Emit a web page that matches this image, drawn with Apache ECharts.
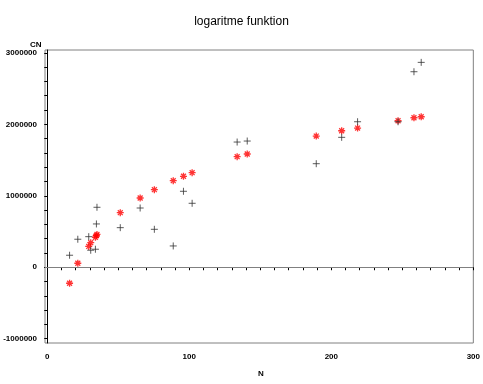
<!DOCTYPE html>
<html>
<head>
<meta charset="utf-8">
<script src="https://cdn.jsdelivr.net/npm/echarts@6/dist/echarts.min.js"></script>
<style>html,body{margin:0;padding:0;background:#fff;}#c{width:483px;height:384px;}</style>
</head>
<body>
<div id="c"></div>
<script>
var N = [15.7, 21.5, 29.2, 30.6, 33.9, 34.6, 35.0, 51.4, 65.4, 75.4, 88.7, 95.9, 102.0, 133.7, 140.8, 189.4, 207.3, 218.5, 247.0, 258.2, 263.3];
var CN_actual = [168000, 392000, 428000, 238000, 252000, 606000, 839000, 554000, 829000, 531000, 298000, 1063000, 895000, 1752000, 1766000, 1449000, 1818000, 2036000, 2036000, 2736000, 2867000];
var CN_pred = [-224000, 56000, 291000, 344000, 420000, 442000, 459000, 764000, 969000, 1085000, 1211000, 1273000, 1323000, 1547000, 1585000, 1836000, 1910000, 1948000, 2050000, 2092000, 2106000];
var xTickLabels = [0, 100, 200, 300];
var yTickLabels = [-1000000, 0, 1000000, 2000000, 3000000];
var xMinorStep = 10;
var yMinorStep = 200000;

var xTicks = [];
for (var v = 0; v <= 300; v += xMinorStep) xTicks.push(v);
var yTicks = [];
for (var w = -1000000; w <= 3000000; w += yMinorStep) yTicks.push(w);

function pairs(xs, ys) { return xs.map(function (x, i) { return [x, ys[i]]; }); }
function plain(val) { return String(val); }

var font = 'Liberation Sans';
var chart = echarts.init(document.getElementById('c'), null, { renderer: 'canvas' });
chart.setOption({
  animation: false,
  backgroundColor: '#fff',
  title: {
    text: 'logaritme funktion', left: 'center', top: 11,
    textStyle: { fontFamily: font, fontSize: 12, fontWeight: 'normal', color: '#000' }
  },
  grid: { left: 45, right: 7, top: 50, bottom: 41, show: true, borderColor: '#808080', borderWidth: 1 },
  xAxis: {
    type: 'value', min: -1.6, max: 300,
    axisLine: { show: true, lineStyle: { color: '#000', width: 1 } },
    axisTick: { show: true, length: 3, customValues: xTicks, lineStyle: { color: '#000' } },
    axisLabel: { customValues: xTickLabels, formatter: plain, margin: 10, fontFamily: font, fontSize: 8, fontWeight: 'bold', color: '#000' },
    splitLine: { show: false }
  },
  yAxis: {
    type: 'value', min: -1060000, max: 3040000,
    axisLine: { show: true, lineStyle: { color: '#000', width: 1 } },
    axisTick: { show: true, length: 3, customValues: yTicks, lineStyle: { color: '#000' } },
    axisLabel: { customValues: yTickLabels, formatter: plain, margin: 8, fontFamily: font, fontSize: 8, fontWeight: 'bold', color: '#000' },
    splitLine: { show: false }
  },
  graphic: [
    { type: 'text', left: 30, top: 41, style: { text: 'CN', font: 'bold 8px Liberation Sans', fill: '#000' } },
    { type: 'text', left: 258, top: 370, style: { text: 'N', font: 'bold 8px Liberation Sans', fill: '#000' } }
  ],
  series: [
    {
      type: 'scatter', name: 'actual', data: pairs(N, CN_actual),
      symbol: 'path://M0,5L10,5M5,0L5,10', symbolSize: 7,
      itemStyle: { color: 'rgba(0,0,0,0)', borderColor: '#333', borderWidth: 1 },
      markLine: {
        silent: true, symbol: 'none', label: { show: false },
        lineStyle: { color: '#808080', width: 1, type: 'solid' },
        data: [{ yAxis: 0 }]
      },
      z: 3
    },
    {
      type: 'scatter', name: 'pred', data: pairs(N, CN_pred),
      symbol: 'path://M0,5L10,5M5,0L5,10M1.5,1.5L8.5,8.5M1.5,8.5L8.5,1.5', symbolSize: 7,
      itemStyle: { color: 'rgba(0,0,0,0)', borderColor: '#ff0000', borderWidth: 1.3 },
      z: 2
    }
  ]
});
</script>
</body>
</html>
